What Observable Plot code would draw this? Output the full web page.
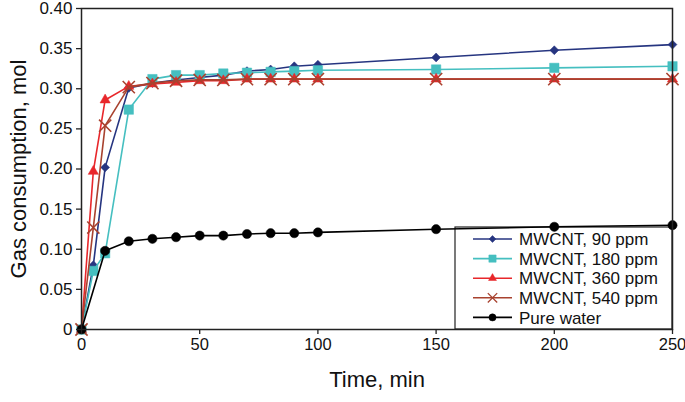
<!DOCTYPE html>
<html><head><meta charset="utf-8">
<script src="https://cdn.jsdelivr.net/npm/d3@7"></script>
<script src="https://cdn.jsdelivr.net/npm/@observablehq/plot@0.6"></script>
<style>
body{margin:0;background:#fff;}
#chart{position:relative;width:685px;height:402px;font-family:"Liberation Sans",Arial,sans-serif;}
</style></head><body><div id="chart"></div>
<script>
// ---- data ----
const time = [0, 5, 10, 20, 30, 40, 50, 60, 70, 80, 90, 100, 150, 200, 250];
const waterTime = [0, 10, 20, 30, 40, 50, 60, 70, 80, 90, 100, 150, 200, 250];
const ppm90  = [0, 0.080, 0.202, 0.301, 0.307, 0.311, 0.314, 0.317, 0.322, 0.324, 0.328, 0.330, 0.339, 0.348, 0.355];
const ppm180 = [0, 0.073, 0.095, 0.274, 0.312, 0.317, 0.317, 0.319, 0.320, 0.321, 0.322, 0.323, 0.324, 0.326, 0.328];
const ppm360 = [0, 0.197, 0.286, 0.303, 0.306, 0.308, 0.310, 0.310, 0.312, 0.312, 0.312, 0.312, 0.312, 0.312, 0.312];
const ppm540 = [0, 0.127, 0.254, 0.302, 0.307, 0.310, 0.311, 0.311, 0.312, 0.312, 0.312, 0.312, 0.312, 0.312, 0.312];
const water  = [0, 0.098, 0.110, 0.113, 0.115, 0.117, 0.117, 0.119, 0.120, 0.120, 0.121, 0.125, 0.128, 0.130];
const seriesNames = ["MWCNT, 90 ppm", "MWCNT, 180 ppm", "MWCNT, 360 ppm", "MWCNT, 540 ppm", "Pure water"];
const xTicks = [0, 50, 100, 150, 200, 250];
const yTicks = [0, 0.05, 0.10, 0.15, 0.20, 0.25, 0.30, 0.35, 0.40];

// ---- styles ----
const styles = [
  {t: time, v: ppm90,  color: "#263580", symbol: "diamond2", r: 4.0, fill: true},
  {t: time, v: ppm180, color: "#45bfc0", symbol: "square",   r: 5.3, fill: true},
  {t: time, v: ppm360, color: "#e8272b", symbol: "triangle", r: 3.8, fill: true},
  {t: time, v: ppm540, color: "#a8422f", symbol: "times",    r: 5.6, fill: false},
  {t: waterTime, v: water, color: "#000000", symbol: "circle", r: 4.6, fill: true}
];

const rows = styles.map((s, k) => s.t.map((t, i) => ({series: seriesNames[k], time: t, value: s.v[i]})));

const marks = [];
styles.forEach((s, k) => {
  marks.push(Plot.line(rows[k], {x: "time", y: "value", stroke: s.color, strokeWidth: 1.6}));
  marks.push(Plot.dot(rows[k], {x: "time", y: "value", symbol: () => s.symbol, r: s.r,
    fill: s.fill ? s.color : "none", stroke: s.color, strokeWidth: s.fill ? 0.5 : 1.6}));
});

const W = 685, H = 402;
const mL = 81, mR = 13, mT = 8, mB = 73;

const chart = Plot.plot({
  width: W, height: H,
  marginLeft: mL, marginRight: mR, marginTop: mT, marginBottom: mB,
  style: {fontFamily: '"Liberation Sans", Arial, sans-serif', fontSize: "17px", color: "#111", background: "#fff", overflow: "visible"},
  x: {domain: [0, 250], ticks: xTicks},
  y: {domain: [0, 0.40], ticks: yTicks},
  marks: [
    ...marks,
    Plot.frame({stroke: "#222", strokeWidth: 1.5}),
    Plot.axisX({ticks: xTicks, tickSize: 5, tickPadding: 4, label: null, fontSize: 16.5, stroke: "#222", strokeWidth: 1.3}),
    Plot.axisY({ticks: yTicks, tickSize: 5, tickPadding: 4, label: null, fontSize: 17, stroke: "#222", strokeWidth: 1.3,
      tickFormat: d => d === 0 ? "0" : d.toFixed(2)}),
    Plot.text(["Time, min"], {frameAnchor: "bottom", dy: 57, fontSize: 22, fill: "#111", textAnchor: "middle", text: d => d}),
    Plot.text(["Gas consumption, mol"], {frameAnchor: "left", dx: -63, rotate: -90, fontSize: 22, fill: "#111", textAnchor: "middle", text: d => d})
  ]
});
document.getElementById("chart").appendChild(chart);

// ---- legend drawn inside the plot's svg, bottom-right corner (beneath data lines) ----
const svg = d3.select(chart);
const lgW = 217, lgH = 102;
const lgX = W - mR - lgW, lgY = H - mB - lgH;
const g = svg.insert("g", ":first-child").attr("transform", `translate(${lgX},${lgY})`);
g.append("rect").attr("width", lgW).attr("height", lgH).attr("fill", "#fff").attr("stroke", "#222").attr("stroke-width", 1.2);
const symMap = {diamond2: d3.symbolDiamond2, square: d3.symbolSquare, triangle: d3.symbolTriangle, times: d3.symbolTimes, circle: d3.symbolCircle};
styles.forEach((s, k) => {
  const y = 12 + k * 19.6;
  const row = g.append("g").attr("transform", `translate(0,${y})`);
  row.append("line").attr("x1", 18).attr("x2", 57).attr("stroke", s.color).attr("stroke-width", 1.6);
  row.append("path").attr("transform", "translate(37.5,0)")
    .attr("d", d3.symbol(symMap[s.symbol], Math.PI * s.r * s.r * 0.6)())
    .attr("fill", s.fill ? s.color : "none").attr("stroke", s.color).attr("stroke-width", s.fill ? 0.5 : 1.3);
  row.append("text").attr("x", 64).attr("dy", "0.36em").attr("text-anchor", "start")
    .attr("font-size", 17).attr("fill", "#111").text(seriesNames[k]);
});
</script>
</body></html>
